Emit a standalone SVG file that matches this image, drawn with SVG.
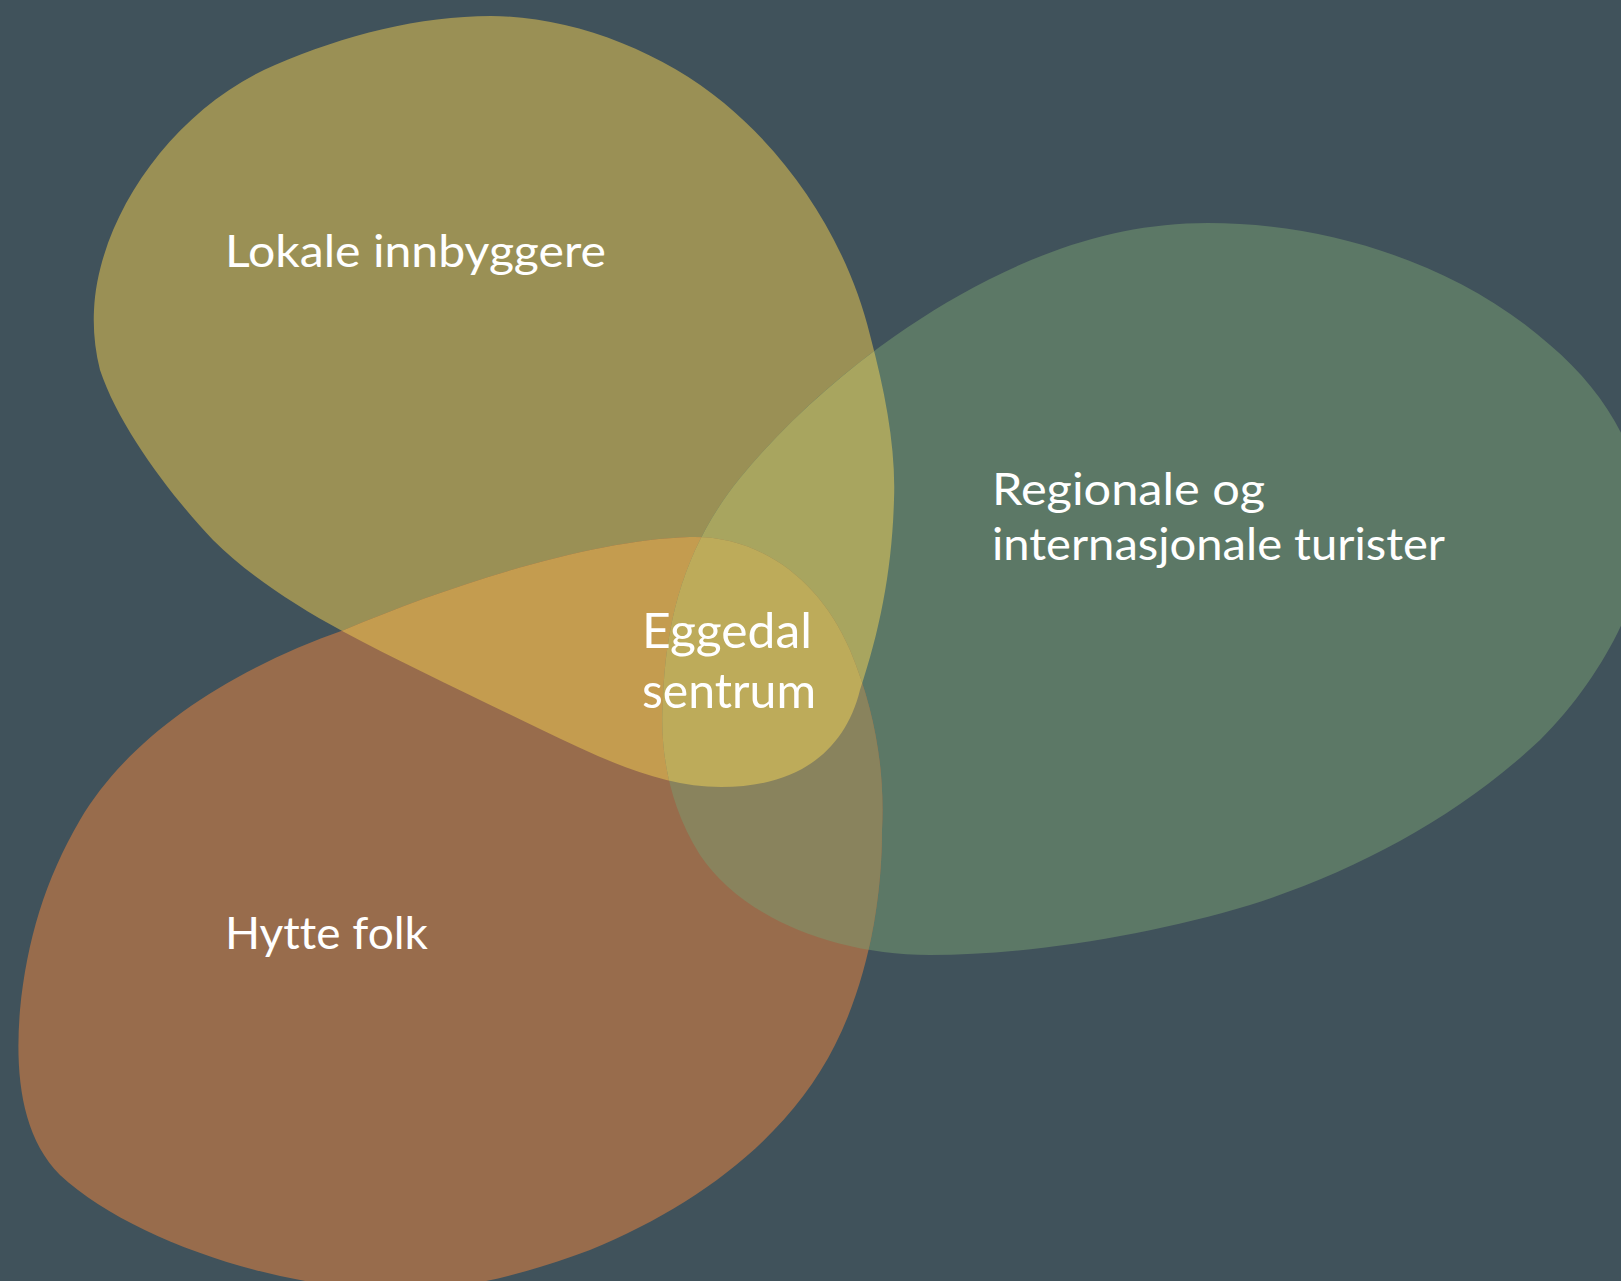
<svg xmlns="http://www.w3.org/2000/svg" xmlns:xlink="http://www.w3.org/1999/xlink" width="1621" height="1281" viewBox="0 0 1621 1281">
<style>
.lbl{font-family:Lato,"Open Sans","Liberation Sans",sans-serif;fill:#ffffff;font-size:45px;font-variant-ligatures:none;font-feature-settings:"liga" 0,"clig" 0}
.big{font-size:49px}
</style>
<defs>
<path id="pO" d="M 491,16 C 570,16 660,50 724,103 C 794,161 848,245 870,335 C 886,395 896,450 894,500 C 892,570 880,630 860,690 C 845,750 800,787 721,787 C 660,787 600,758 540,729 C 470,695 400,662 344,632 C 290,603 245,572 213,540 C 175,500 120,430 100,370 C 95,350 93,330 94,310 C 98,220 170,110 275,65 C 345,35 420,16 491,16 Z"/>
<path id="pG" d="M 1208,223 C 1330,223 1460,265 1550,345 C 1615,400 1648,470 1645,540 C 1642,600 1600,680 1540,740 C 1460,815 1360,870 1250,905 C 1150,935 1030,955 930,955 C 830,955 740,915 700,855 C 665,800 660,740 663,700 C 666,610 690,540 740,478 C 800,405 880,340 960,295 C 1040,250 1120,223 1208,223 Z"/>
<path id="pB" d="M 690,537 C 760,535 820,580 850,650 C 875,710 885,770 882,830 C 882,900 868,980 835,1045 C 790,1135 700,1205 590,1250 C 530,1272 470,1290 400,1290 C 280,1290 130,1240 60,1175 C 20,1135 15,1070 20,1010 C 27,940 45,880 80,820 C 130,735 230,670 344,630 C 450,585 590,540 690,537 Z"/>
<clipPath id="cO"><use xlink:href="#pO"/></clipPath>
<clipPath id="cG"><use xlink:href="#pG"/></clipPath>
</defs>
<rect x="0" y="0" width="1621" height="1281" fill="#40525b"/>
<g id="lokale-innbyggere">
<use xlink:href="#pO" fill="#9a9055"/>
</g>
<g id="regionale-turister">
<use xlink:href="#pG" fill="#5c7866"/>
</g>
<g id="hytte-folk">
<use xlink:href="#pB" fill="#986c4c"/>
</g>
<g id="overlaps">
<g clip-path="url(#cO)"><use xlink:href="#pG" fill="#a8a55f"/></g>
<g clip-path="url(#cO)"><use xlink:href="#pB" fill="#c49c4f"/></g>
<g clip-path="url(#cG)"><use xlink:href="#pB" fill="#89835d"/></g>
<g clip-path="url(#cO)"><g clip-path="url(#cG)"><use xlink:href="#pB" fill="#bdab5a"/></g></g>
</g>
<g id="labels">
<text class="lbl" x="225" y="267" textLength="381" lengthAdjust="spacingAndGlyphs">Lokale innbyggere</text>
<text class="lbl" x="992" y="505" textLength="273" lengthAdjust="spacingAndGlyphs">Regionale og</text>
<text class="lbl" x="992" y="560" textLength="453" lengthAdjust="spacingAndGlyphs">internasjonale turister</text>
<text class="lbl" x="225" y="949" textLength="203" lengthAdjust="spacingAndGlyphs">Hytte folk</text>
</g>
<g id="eggedal-sentrum">
<text class="lbl big" x="642" y="648" textLength="170" lengthAdjust="spacingAndGlyphs">Eggedal</text>
<text class="lbl big" x="642" y="708" textLength="174" lengthAdjust="spacingAndGlyphs">sentrum</text>
</g>
<g id="connectors"/>
</svg>
